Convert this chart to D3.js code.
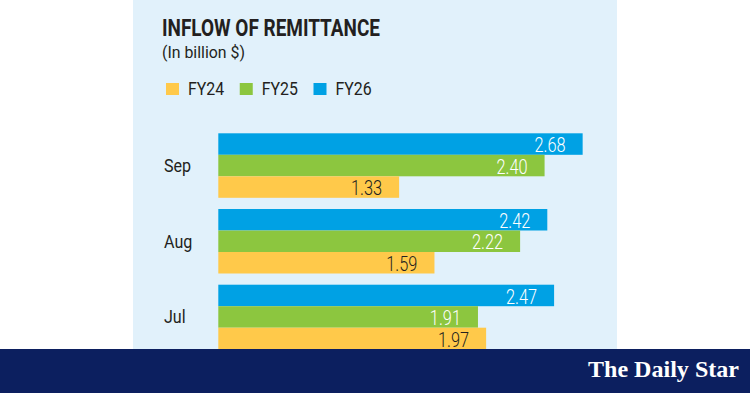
<!DOCTYPE html>
<html>
<head>
<meta charset="utf-8">
<script src="https://cdn.jsdelivr.net/npm/d3@7"></script>
<style>
  html, body { margin: 0; padding: 0; background: #fff; }
  svg { display: block; }
  text { font-family: "Roboto", "Liberation Sans", sans-serif; }
</style>
</head>
<body>
<svg id="chart" width="750" height="393"></svg>
<script>
const months      = ['Sep', 'Aug', 'Jul'];
const years       = ['FY26', 'FY25', 'FY24'];
const legendYears = ['FY24', 'FY25', 'FY26'];
const fy24 = [1.33, 1.59, 1.97];
const fy25 = [2.40, 2.22, 1.91];
const fy26 = [2.68, 2.42, 2.47];

const colors      = {FY24: '#ffc94a', FY25: '#8cc63f', FY26: '#00a1e4'};
const labelColors = {FY24: '#231f20', FY25: '#ffffff', FY26: '#ffffff'};
const ink         = '#231f20';

const rows = months.map((m, i) => ({
  month:  m,
  values: [
    {year: 'FY26', value: fy26[i]},
    {year: 'FY25', value: fy25[i]},
    {year: 'FY24', value: fy24[i]},
  ]
}));

// squeeze text horizontally, the original uses a condensed face
const squeeze = (sel, px, py, k) => sel
  .attr('x', 0).attr('y', 0)
  .attr('transform', (d, i) => {
    const xx = typeof px === 'function' ? px(d, i) : px;
    const yy = typeof py === 'function' ? py(d, i) : py;
    return `translate(${xx},${yy}) scale(${k},1)`;
  });

const svg = d3.select('#chart');

// light blue panel
svg.append('rect')
  .attr('x', 133).attr('y', 0)
  .attr('width', 484).attr('height', 393)
  .attr('fill', '#e1f1fb');

// title
svg.append('text')
  .attr('x', 162).attr('y', 36)
  .attr('font-size', 24).attr('font-weight', 'bold')
  .attr('fill', ink)
  .attr('textLength', 218).attr('lengthAdjust', 'spacingAndGlyphs')
  .text('INFLOW OF REMITTANCE');

svg.append('text')
  .attr('x', 162).attr('y', 58)
  .attr('font-size', 17)
  .attr('fill', ink)
  .attr('textLength', 83).attr('lengthAdjust', 'spacingAndGlyphs')
  .text('(In billion $)');

// legend
const legendX = d3.scalePoint().domain(legendYears).range([166, 313.5]);
const legend  = svg.append('g').selectAll('g').data(legendYears).join('g')
  .attr('transform', d => `translate(${legendX(d)},83)`);
legend.append('rect')
  .attr('width', 13).attr('height', 12)
  .attr('fill', d => colors[d]);
legend.append('text')
  .attr('font-size', 18.5)
  .attr('fill', ink)
  .text(d => d)
  .call(squeeze, 22, 12, 0.86);

// scales
const x  = d3.scaleLinear().domain([0, 3]).range([218.3, 218.3 + 3 * 135.95]);
const y0 = d3.scaleBand().domain(months).range([133.3, 349.2]).paddingInner(0.148);
const y1 = d3.scaleBand().domain(years).range([0, y0.bandwidth()]);

const groups = svg.append('g').selectAll('g').data(rows).join('g')
  .attr('transform', d => `translate(0,${y0(d.month)})`);

groups.append('text')
  .attr('font-size', 17.5)
  .attr('fill', ink)
  .text(d => d.month)
  .call(squeeze, 164, y0.bandwidth() / 2 + 6.5, 0.92);

groups.selectAll('rect').data(d => d.values).join('rect')
  .attr('x', x(0))
  .attr('y', d => y1(d.year))
  .attr('width', d => x(d.value) - x(0))
  .attr('height', y1.bandwidth())
  .attr('fill', d => colors[d.year]);

groups.selectAll('text.val').data(d => d.values).join('text')
  .attr('class', 'val')
  .attr('text-anchor', 'end')
  .attr('font-size', 19.5)
  .attr('font-weight', 300)
  .attr('fill', d => labelColors[d.year])
  .text(d => d.value.toFixed(2))
  .call(squeeze, d => x(d.value) - 17, d => y1(d.year) + y1.bandwidth() - 2.6, 0.84);

// footer band
svg.append('rect')
  .attr('x', 0).attr('y', 349)
  .attr('width', 750).attr('height', 44)
  .attr('fill', '#0c1f5f');

svg.append('text')
  .attr('x', 588).attr('y', 377)
  .attr('font-size', 24)
  .attr('font-weight', 'bold')
  .attr('fill', '#ffffff')
  .style('font-family', '"Liberation Serif", "DejaVu Serif", serif')
  .attr('textLength', 151)
  .attr('lengthAdjust', 'spacingAndGlyphs')
  .text('The Daily Star');
</script>
</body>
</html>
